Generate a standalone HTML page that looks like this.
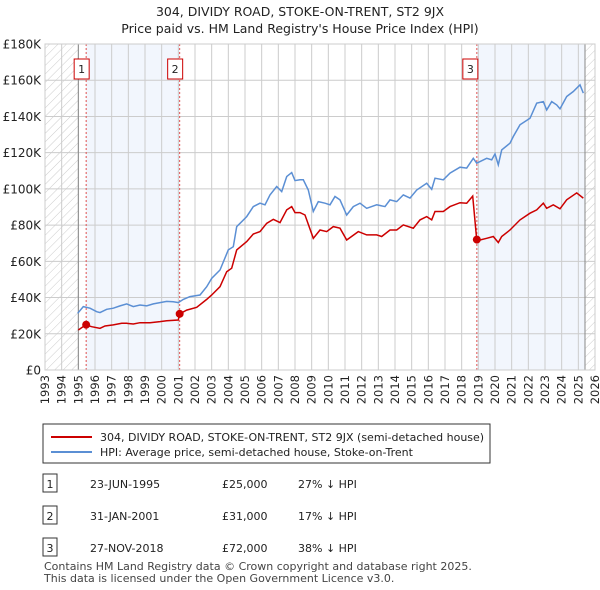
<!DOCTYPE html>
<html><head><meta charset="utf-8"><style>
body{margin:0;background:#fff;font-family:"Liberation Sans","DejaVu Sans",sans-serif;}
#wrap{position:relative;width:600px;height:590px;overflow:hidden}
svg text{font-family:"DejaVu Sans","Liberation Sans",sans-serif}
</style></head><body><div id="wrap">
<svg id="c" width="600" height="590" xmlns="http://www.w3.org/2000/svg">
<defs><pattern id="hatch" width="6" height="6" patternUnits="userSpaceOnUse" patternTransform="rotate(45)"><line x1="0" y1="0" x2="0" y2="6" stroke="#ccc" stroke-width="1"/></pattern></defs>
<text x="300" y="16" text-anchor="middle" font-size="12.5" fill="#222">304, DIVIDY ROAD, STOKE-ON-TRENT, ST2 9JX</text>
<text x="300" y="33" text-anchor="middle" font-size="12.5" fill="#222">Price paid vs. HM Land Registry's House Price Index (HPI)</text>
<g id="plot"></g>
<rect x="43" y="424" width="447" height="39" fill="#fff" stroke="#333"/>
<line x1="51" y1="437" x2="92" y2="437" stroke="#cc0000" stroke-width="2"/>
<text x="100" y="441" font-size="11" fill="#222">304, DIVIDY ROAD, STOKE-ON-TRENT, ST2 9JX (semi-detached house)</text>
<line x1="51" y1="452" x2="92" y2="452" stroke="#5b8fd4" stroke-width="2"/>
<text x="100" y="456" font-size="11" fill="#222">HPI: Average price, semi-detached house, Stoke-on-Trent</text>
<g id="tbl"></g>
<text x="44" y="570" font-size="11" fill="#444">Contains HM Land Registry data © Crown copyright and database right 2025.</text>
<text x="44" y="582" font-size="11" fill="#444">This data is licensed under the Open Government Licence v3.0.</text>
</svg></div>
<script>
const hpiYears=[1994.96,1995.3,1995.7,1996.1,1996.3,1996.7,1997.1,1997.5,1997.9,1998.3,1998.7,1999.1,1999.5,1999.9,2000.3,2000.7,2001.0,2001.3,2001.7,2002.3,2002.7,2003.0,2003.5,2004.0,2004.3,2004.5,2004.8,2005.1,2005.5,2005.9,2006.2,2006.5,2006.9,2007.2,2007.5,2007.8,2008.0,2008.3,2008.5,2008.8,2009.1,2009.4,2009.8,2010.1,2010.4,2010.7,2011.1,2011.5,2011.9,2012.3,2012.9,2013.4,2013.7,2014.1,2014.5,2014.9,2015.3,2015.9,2016.2,2016.4,2016.9,2017.3,2017.9,2018.3,2018.7,2018.9,2019.5,2019.8,2020.0,2020.2,2020.4,2020.9,2021.1,2021.5,2022.1,2022.5,2022.9,2023.1,2023.4,2023.7,2023.9,2024.3,2024.7,2025.1,2025.3];
const hpiValues=[31.3,35.0,34.1,32.2,31.7,33.5,34.1,35.4,36.5,35.0,35.9,35.4,36.5,37.2,37.9,37.7,37.2,39.0,40.5,41.4,46.0,50.6,55.2,66.3,68.1,79.2,81.9,84.7,90.2,92.1,91.2,96.7,101.3,98.5,106.8,109.0,104.6,105.0,105.0,99.4,87.5,93.0,92.1,91.2,95.8,93.9,85.6,90.2,92.1,89.3,91.2,90.2,93.9,93.0,96.7,94.9,99.4,103.1,99.8,105.9,105.0,108.7,112.0,111.5,116.9,114.2,116.9,116.0,119.3,113.3,121.5,125.2,128.9,135.4,139.0,147.3,148.2,143.6,148.2,146.4,144.2,151.0,153.8,157.5,152.9];
const priceYears=[1995.0,1995.44,1995.8,1996.3,1996.6,1997.1,1997.6,1997.9,1998.3,1998.7,1999.3,1999.9,2000.3,2001.0,2001.08,2001.5,2002.1,2002.7,2003.0,2003.5,2003.9,2004.2,2004.5,2005.1,2005.5,2005.9,2006.3,2006.7,2007.1,2007.5,2007.8,2008.0,2008.3,2008.6,2009.1,2009.5,2009.9,2010.3,2010.7,2011.1,2011.8,2012.3,2012.9,2013.2,2013.7,2014.1,2014.5,2015.1,2015.5,2015.9,2016.2,2016.4,2016.9,2017.3,2017.9,2018.3,2018.66,2018.9,2019.1,2019.5,2019.9,2020.2,2020.4,2020.9,2021.5,2022.1,2022.5,2022.9,2023.1,2023.5,2023.9,2024.3,2024.9,2025.3];
const priceValues=[22.1,24.9,23.9,23.0,24.3,24.9,25.8,25.8,25.4,26.1,26.1,26.7,27.2,27.6,31.0,33.1,34.6,39.0,41.4,46.0,54.3,56.2,66.3,70.9,75.1,76.4,81.0,83.2,81.4,88.4,90.2,86.9,86.9,85.6,72.7,77.3,76.4,79.2,78.3,71.8,76.4,74.6,74.6,73.7,77.3,77.3,80.1,78.3,82.9,84.7,82.9,87.5,87.5,90.2,92.4,92.1,96.0,72.0,71.8,72.7,73.7,70.4,73.7,77.3,82.9,86.6,88.4,92.1,89.3,91.2,89.0,94.0,97.8,94.9];
const saleYears=[1995.47,2001.08,2018.91];
const saleValues=[25,31,72];
const saleLabels=["1","2","3"];
const saleDates=["23-JUN-1995","31-JAN-2001","27-NOV-2018"];
const salePrices=["£25,000","£31,000","£72,000"];
const saleDiffs=["27% ↓ HPI","17% ↓ HPI","38% ↓ HPI"];
const yTicks=[0,20,40,60,80,100,120,140,160,180];
const yTickLabels=["£0","£20K","£40K","£60K","£80K","£100K","£120K","£140K","£160K","£180K"];
const xStart=1993,xEnd=2026,dataEnd=2025.4;
const L=45,R=595,T=44,B=370;
const X=y=>L+(y-xStart)/(xEnd-xStart)*(R-L);
const Y=v=>B-v/180*(B-T);
const NS="http://www.w3.org/2000/svg";
const plot=document.getElementById('plot');
function mk(tag,attrs,parent){const e=document.createElementNS(NS,tag);for(const k in attrs)e.setAttribute(k,attrs[k]);(parent||plot).appendChild(e);return e;}
// shaded periods
let e=mk('rect',{x:X(saleYears[0]),y:T,width:X(saleYears[1])-X(saleYears[0]),height:B-T,fill:'#eef3fc',opacity:0.75});


e=mk('rect',{x:X(saleYears[2]),y:T,width:X(dataEnd)-X(saleYears[2]),height:B-T,fill:'#eef3fc',opacity:0.75});


e=mk('rect',{x:L,y:T,width:X(1995)-L,height:B-T,fill:'url(#hatch)'});


e=mk('rect',{x:X(dataEnd),y:T,width:R-X(dataEnd),height:B-T,fill:'url(#hatch)'});


// grid
for(let yr=xStart;yr<=xEnd;yr++){
 e=mk('line',{x1:X(yr),x2:X(yr),y1:T,y2:B,stroke:'#ccc','stroke-width':1});
 
 
 const tx=X(yr)+4, ty=B+5;
 e=mk('text',{x:tx,y:ty,'font-size':11.5,fill:'#222','text-anchor':'end',transform:`rotate(-90 ${tx} ${ty})`});
 e.textContent=yr;
 
 
}
yTicks.forEach((v,i)=>{
 e=mk('line',{x1:L,x2:R,y1:Y(v),y2:Y(v),stroke:'#ccc','stroke-width':1});
 
 
 e=mk('text',{x:L-4,y:Y(v)+4.5,'font-size':12,fill:'#222','text-anchor':'end'});
 e.textContent=yTickLabels[i];
 
 
});
e=mk('line',{x1:X(1995),x2:X(1995),y1:T,y2:B,stroke:'#888'});


e=mk('line',{x1:X(dataEnd),x2:X(dataEnd),y1:T,y2:B,stroke:'#888'});


saleYears.forEach((s,i)=>{
 e=mk('line',{x1:X(s),x2:X(s),y1:T,y2:B,stroke:'#e05050','stroke-dasharray':'2,2','stroke-width':1});
 
 
});
const pts=(xs,vs)=>xs.map((x,i)=>X(x).toFixed(1)+','+Y(vs[i]).toFixed(1)).join(' ');
e=mk('polyline',{points:pts(hpiYears,hpiValues),fill:'none',stroke:'#5b8fd4','stroke-width':1.5});


e=mk('polyline',{points:pts(priceYears,priceValues),fill:'none',stroke:'#cc0000','stroke-width':1.5});


saleYears.forEach((s,i)=>{
 e=mk('circle',{cx:X(s),cy:Y(saleValues[i]),r:4,fill:'#cc0000'});
 
 
 const bx=X(s)-(i==2?10:8)-4;
 e=mk('rect',{x:bx,y:59,width:15,height:20,fill:'#fff',stroke:'#cc0000'});
 
 
 e=mk('text',{x:bx+7.5,y:73,'font-size':11,'text-anchor':'middle',fill:'#222'});
 e.textContent=saleLabels[i];
 
 
});
e=mk('rect',{x:L,y:T,width:R-L,height:B-T,fill:'none',stroke:'#ccc'});


// table
const tbl=document.getElementById('tbl');
const rowY=[485,517,549];
saleLabels.forEach((l,i)=>{
 const y=rowY[i];
 e=mk('rect',{x:43,y:y-11,width:14,height:18,fill:'#fff',stroke:'#333'},tbl);
 
 
 e=mk('text',{x:50,y:y+3,'font-size':11,'text-anchor':'middle',fill:'#222'},tbl);
 e.textContent=l;
 
 
 e=mk('text',{x:90,y:y+3,'font-size':11,fill:'#222'},tbl);
 e.textContent=saleDates[i];
 
 
 e=mk('text',{x:222,y:y+3,'font-size':11,fill:'#222'},tbl);
 e.textContent=salePrices[i];
 
 
 e=mk('text',{x:298,y:y+3,'font-size':11,fill:'#222'},tbl);
 e.textContent=saleDiffs[i];
 
 
});
</script></body></html>
